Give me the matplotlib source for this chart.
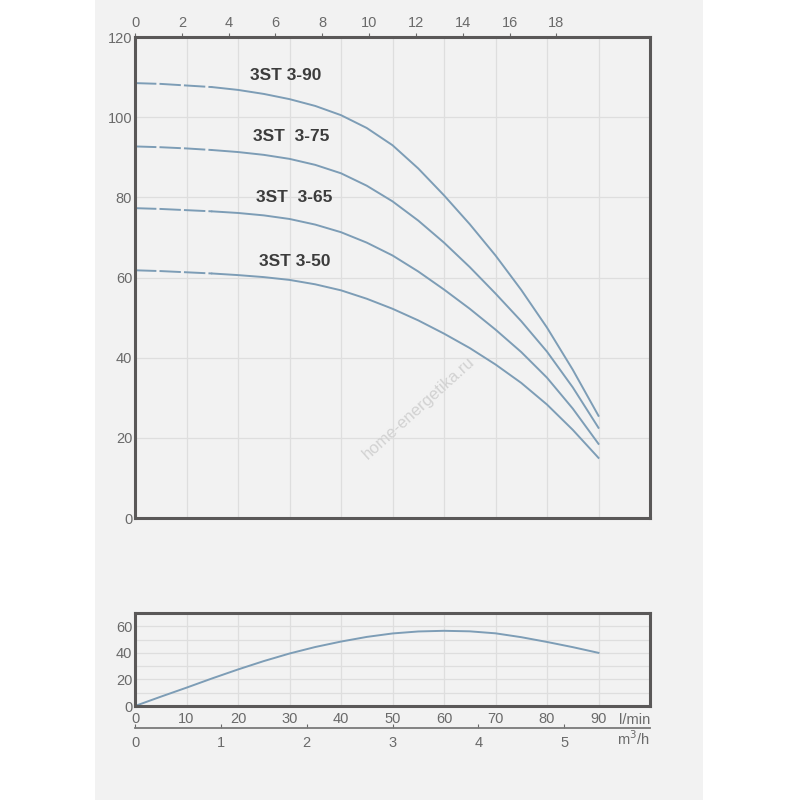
import numpy as np
import matplotlib
matplotlib.use('Agg')
import matplotlib.pyplot as plt
from matplotlib.patches import Rectangle

plt.rcParams['font.family'] = ['Liberation Sans', 'DejaVu Sans']

# flow, l/min
flow = [0, 5, 10, 15, 20, 25, 30, 35, 40, 45, 50, 55, 60, 65, 70, 75, 80, 85, 90]

# head, m
h_390 = [108.5, 108.3, 107.9, 107.5, 106.8, 105.8, 104.5, 102.8, 100.5, 97.3,
         93.0, 87.2, 80.5, 73.3, 65.5, 56.9, 47.5, 37.0, 25.5]
h_375 = [92.7, 92.5, 92.2, 91.8, 91.3, 90.6, 89.6, 88.1, 86.0, 82.9,
         79.0, 74.2, 68.7, 62.6, 56.0, 49.1, 41.5, 32.6, 22.5]
h_365 = [77.3, 77.1, 76.8, 76.5, 76.1, 75.5, 74.6, 73.2, 71.3, 68.7,
         65.5, 61.5, 57.0, 52.2, 47.0, 41.4, 35.0, 27.3, 18.5]
h_350 = [61.8, 61.6, 61.3, 61.0, 60.6, 60.1, 59.4, 58.3, 56.8, 54.7,
         52.2, 49.3, 46.0, 42.4, 38.3, 33.7, 28.3, 22.0, 15.0]

# efficiency, %
eff = [0, 7.0, 13.8, 20.8, 27.5, 33.8, 39.5, 44.4, 48.5, 52.0,
       54.6, 56.1, 56.6, 56.2, 54.7, 51.8, 48.2, 44.3, 40.0]

names = ['3ST 3-90', '3ST  3-75', '3ST  3-65', '3ST 3-50']
label_x = [29.2, 30.3, 30.9, 31.1]
label_y = [110.3, 95.2, 80.0, 63.9]

top_ticks = [0, 2, 4, 6, 8, 10, 12, 14, 16, 18]   # imp. gal/min
m3h_ticks = [0, 1, 2, 3, 4, 5]
GAL = 4.546

line_col = '#7d9db6'
spine_col = '#5a5858'
tick_col = '#6a6a6a'
grid_col = '#dedede'

fig = plt.figure(figsize=(8, 8), dpi=100)
fig.patch.set_facecolor('white')
fig.patches.append(Rectangle((0.11875, 0), 0.76, 1, transform=fig.transFigure,
                             facecolor='#f2f2f2', edgecolor='none', zorder=-10))

# watermark
fig.text(0.523, 0.49, 'home-energetika.ru', rotation=42, color='#d2d2d2',
         fontsize=12, ha='center', va='center')

# --- main Q-H chart
ax = fig.add_axes([0.16875, 0.3525, 0.64375, 0.60125])
ax.set_facecolor('none')
ax.set_xlim(0, 100)
ax.set_ylim(0, 120)
ax.set_xticks(range(0, 101, 10))
ax.set_yticks(range(0, 121, 20))
ax.grid(True, color=grid_col, lw=0.9)
ax.tick_params(axis='x', length=0, labelbottom=False)
ax.tick_params(axis='y', length=0, pad=2, labelsize=10.5, labelcolor=tick_col)
for s in ax.spines.values():
    s.set_color(spine_col)
    s.set_linewidth(2.2)

n_dash = 4
for h, name, lx, ly in zip([h_390, h_375, h_365, h_350], names, label_x, label_y):
    ax.plot(flow[:n_dash], h[:n_dash], color=line_col, lw=1.4, ls=(0, (11, 1.6)))
    ax.plot(flow[n_dash - 1:], h[n_dash - 1:], color=line_col, lw=1.4)
    ax.text(lx, ly, name, ha='center', va='center', fontsize=12.5,
            fontweight='bold', color='#3c3c3c')

sec = ax.secondary_xaxis('top', functions=(lambda q: q / GAL, lambda g: g * GAL))
sec.set_xticks(top_ticks)
sec.tick_params(length=3, width=0.8, color=tick_col, pad=2,
                labelsize=10.5, labelcolor=tick_col)
sec.spines['top'].set_visible(False)

# --- efficiency chart
ax2 = fig.add_axes([0.16875, 0.1175, 0.64375, 0.11625])
ax2.set_facecolor('none')
ax2.set_xlim(0, 100)
ax2.set_ylim(0, 70)
ax2.set_xticks(range(0, 91, 10))
ax2.set_yticks([0, 20, 40, 60])
ax2.set_yticks([10, 30, 50], minor=True)
ax2.grid(True, which='both', color=grid_col, lw=0.9)
ax2.tick_params(which='both', length=0)
ax2.tick_params(axis='x', pad=4, labelsize=10.5, labelcolor=tick_col)
ax2.tick_params(axis='y', pad=2, labelsize=10.5, labelcolor=tick_col)
for s in ax2.spines.values():
    s.set_color(spine_col)
    s.set_linewidth(2.2)
ax2.plot(flow, eff, color=line_col, lw=1.4)
ax2.text(1.0, -0.07, 'l/min', transform=ax2.transAxes, ha='right', va='top',
         fontsize=10.5, color=tick_col)

# --- m3/h scale
ax3 = fig.add_axes([0.16875, 0.09, 0.64375, 0.0001])
ax3.set_facecolor('none')
ax3.set_xlim(0, 6)
ax3.set_xticks(m3h_ticks)
ax3.set_yticks([])
for k in ['left', 'right', 'top']:
    ax3.spines[k].set_visible(False)
ax3.spines['bottom'].set_color('#7a7a7a')
ax3.spines['bottom'].set_linewidth(1.3)
ax3.tick_params(axis='x', direction='in', length=3, width=0.8, color=tick_col,
                pad=6, labelsize=10.5, labelcolor=tick_col)
ax3.text(1.0, -16, 'm$^3$/h', transform=ax3.transAxes, ha='right', va='top',
         fontsize=10.5, color=tick_col)

fig.savefig('out.png', dpi=100, facecolor=fig.get_facecolor())
